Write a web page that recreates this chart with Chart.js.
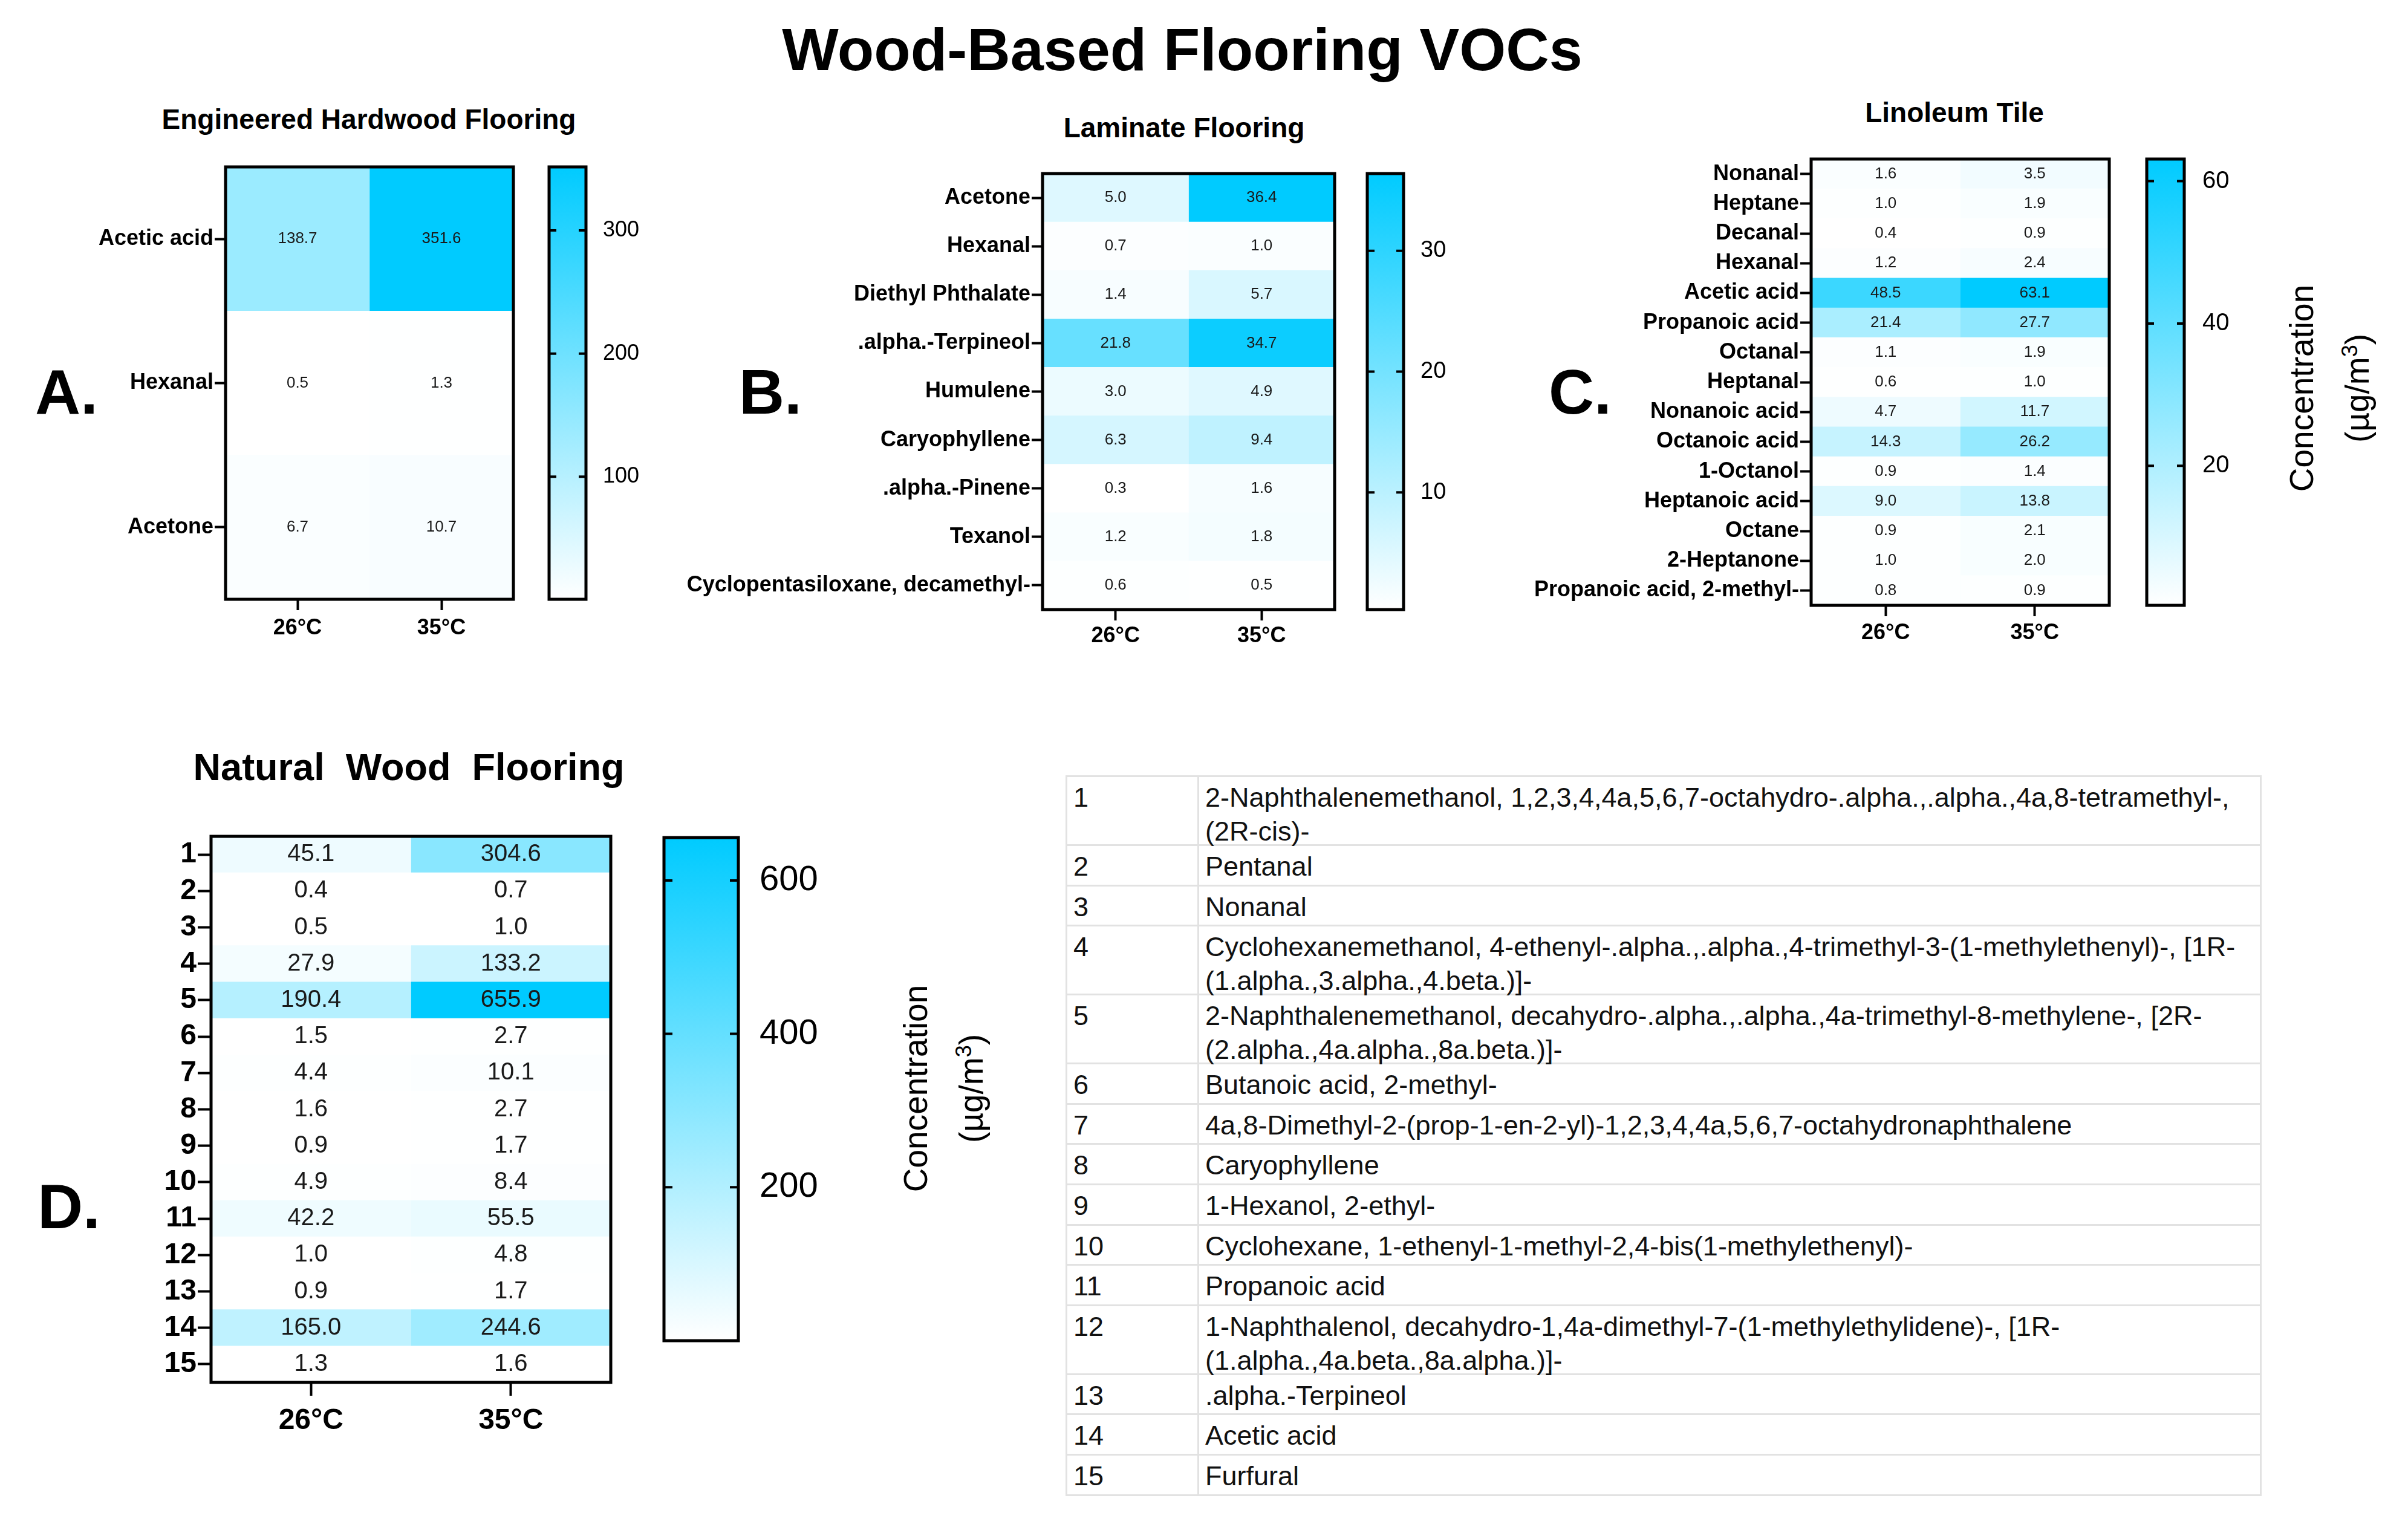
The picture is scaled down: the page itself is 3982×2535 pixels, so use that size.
<!DOCTYPE html>
<html>
<head>
<meta charset="utf-8">
<script src="https://cdn.jsdelivr.net/npm/chart.js@4.4.1/dist/chart.umd.min.js"></script>
<style>
  html, body { margin: 0; padding: 0; background: #fff; }
  body { width: 3982px; height: 2535px; position: relative; overflow: hidden;
         font-family: "Liberation Sans", Arial, Helvetica, sans-serif; color: #000; }
  .txt { position: absolute; transform: translate(-50%, -50%); white-space: pre; }
  .rot { position: absolute; transform: translate(-50%, -50%) rotate(-90deg); text-align: center;
         font-size: 55px; line-height: 80px; white-space: nowrap; }
  canvas { position: absolute; }
  #legendTable { position: absolute; left: 1762px; top: 1282px; width: 1978px; box-sizing: border-box;
                 border: 3px solid #e2e2e2; border-bottom: none; font-size: 45px; color: #111; }
  .row { display: flex; box-sizing: border-box; border-bottom: 3px solid #e2e2e2; }
  .num { width: 218px; flex: none; box-sizing: border-box; border-right: 3px solid #e2e2e2; padding: 6px 0 0 10px; line-height: 56px; }
  .name { padding: 6px 0 0 10px; line-height: 56px; white-space: pre; }
</style>
</head>
<body>
<script>
// ================================================================
// 데이터
// ================================================================
const temps = ["26°C", "35°C"];

const hardwoodCompounds = ["Acetic acid", "Hexanal", "Acetone"];
const hardwood26 = [138.7, 0.5, 6.7];
const hardwood35 = [351.6, 1.3, 10.7];
const hardwoodTicks = [100, 200, 300];

const laminateCompounds = ["Acetone", "Hexanal", "Diethyl Phthalate", ".alpha.-Terpineol", "Humulene",
  "Caryophyllene", ".alpha.-Pinene", "Texanol", "Cyclopentasiloxane, decamethyl-"];
const laminate26 = [5.0, 0.7, 1.4, 21.8, 3.0, 6.3, 0.3, 1.2, 0.6];
const laminate35 = [36.4, 1.0, 5.7, 34.7, 4.9, 9.4, 1.6, 1.8, 0.5];
const laminateTicks = [10, 20, 30];

const linoleumCompounds = ["Nonanal", "Heptane", "Decanal", "Hexanal", "Acetic acid", "Propanoic acid",
  "Octanal", "Heptanal", "Nonanoic acid", "Octanoic acid", "1-Octanol", "Heptanoic acid", "Octane",
  "2-Heptanone", "Propanoic acid, 2-methyl-"];
const linoleum26 = [1.6, 1.0, 0.4, 1.2, 48.5, 21.4, 1.1, 0.6, 4.7, 14.3, 0.9, 9.0, 0.9, 1.0, 0.8];
const linoleum35 = [3.5, 1.9, 0.9, 2.4, 63.1, 27.7, 1.9, 1.0, 11.7, 26.2, 1.4, 13.8, 2.1, 2.0, 0.9];
const linoleumTicks = [20, 40, 60];

const naturalIds = ["1", "2", "3", "4", "5", "6", "7", "8", "9", "10", "11", "12", "13", "14", "15"];
const natural26 = [45.1, 0.4, 0.5, 27.9, 190.4, 1.5, 4.4, 1.6, 0.9, 4.9, 42.2, 1.0, 0.9, 165.0, 1.3];
const natural35 = [304.6, 0.7, 1.0, 133.2, 655.9, 2.7, 10.1, 2.7, 1.7, 8.4, 55.5, 4.8, 1.7, 244.6, 1.6];
const naturalTicks = [200, 400, 600];
const naturalNames = [
  "2-Naphthalenemethanol, 1,2,3,4,4a,5,6,7-octahydro-.alpha.,.alpha.,4a,8-tetramethyl-,\n(2R-cis)-",
  "Pentanal",
  "Nonanal",
  "Cyclohexanemethanol, 4-ethenyl-.alpha.,.alpha.,4-trimethyl-3-(1-methylethenyl)-, [1R-\n(1.alpha.,3.alpha.,4.beta.)]-",
  "2-Naphthalenemethanol, decahydro-.alpha.,.alpha.,4a-trimethyl-8-methylene-, [2R-\n(2.alpha.,4a.alpha.,8a.beta.)]-",
  "Butanoic acid, 2-methyl-",
  "4a,8-Dimethyl-2-(prop-1-en-2-yl)-1,2,3,4,4a,5,6,7-octahydronaphthalene",
  "Caryophyllene",
  "1-Hexanol, 2-ethyl-",
  "Cyclohexane, 1-ethenyl-1-methyl-2,4-bis(1-methylethenyl)-",
  "Propanoic acid",
  "1-Naphthalenol, decahydro-1,4a-dimethyl-7-(1-methylethylidene)-, [1R-\n(1.alpha.,4a.beta.,8a.alpha.)]-",
  ".alpha.-Terpineol",
  "Acetic acid",
  "Furfural"
];

// ================================================================
// 공통
// ================================================================
const FONT = "'Liberation Sans', Arial, Helvetica, sans-serif";
const HI_RGB = [0, 203, 255];

function shade(v, lo, hi) {
  const t = Math.max(0, Math.min(1, (v - lo) / (hi - lo)));
  const c = HI_RGB.map((h) => Math.round(255 + (h - 255) * t));
  return `rgb(${c[0]},${c[1]},${c[2]})`;
}

function addText(text, cx, cy, css) {
  const d = document.createElement("div");
  d.className = "txt";
  d.textContent = text;
  d.style.left = cx + "px";
  d.style.top = cy + "px";
  Object.assign(d.style, css || {});
  document.body.appendChild(d);
  return d;
}

function addRotLabel(cx, cy) {
  const d = document.createElement("div");
  d.className = "rot";
  d.innerHTML = "Concentration<br>(µg/m<sup style='font-size:36px'>3</sup>)";
  d.style.left = cx + "px";
  d.style.top = cy + "px";
  document.body.appendChild(d);
}

function addCanvas(left, top, w, h) {
  const c = document.createElement("canvas");
  c.width = w;
  c.height = h;
  c.style.left = left + "px";
  c.style.top = top + "px";
  c.style.width = w + "px";
  c.style.height = h + "px";
  document.body.appendChild(c);
  return c;
}

// 축 라벨이 차트 영역을 밀어내지 않게
function noScalePadding(s) {
  s.paddingTop = 0;
  s.paddingBottom = 0;
  s.paddingLeft = 0;
  s.paddingRight = 0;
}

// 검은 테두리
const boxBorder = {
  id: "boxBorder",
  afterDraw(chart, args, opts) {
    const { ctx, chartArea: a } = chart;
    ctx.save();
    ctx.strokeStyle = "#000";
    ctx.lineWidth = opts.width || 5;
    ctx.strokeRect(a.left, a.top, a.right - a.left, a.bottom - a.top);
    ctx.restore();
  },
};

// 셀 값 표시
const cellLabels = {
  id: "cellLabels",
  afterDatasetsDraw(chart, args, opts) {
    const ctx = chart.ctx;
    ctx.save();
    ctx.font = opts.font;
    ctx.fillStyle = "#1a1a1a";
    ctx.textAlign = "center";
    ctx.textBaseline = "middle";
    chart.data.datasets.forEach((ds, i) => {
      chart.getDatasetMeta(i).data.forEach((el, j) => {
        ctx.fillText(ds.values[j].toFixed(1), (el.x + el.base) / 2, el.y);
      });
    });
    ctx.restore();
  },
};

// 컬러바 안쪽 눈금
const innerTicks = {
  id: "innerTicks",
  afterDraw(chart, args, opts) {
    const { ctx, chartArea: a } = chart;
    const scale = chart.scales.y;
    const len = opts.len || 12;
    ctx.save();
    ctx.strokeStyle = "#000";
    ctx.lineWidth = opts.width || 4;
    scale.ticks.forEach((t) => {
      const py = scale.getPixelForValue(t.value);
      ctx.beginPath();
      ctx.moveTo(a.left, py);
      ctx.lineTo(a.left + len, py);
      ctx.moveTo(a.right - len, py);
      ctx.lineTo(a.right, py);
      ctx.stroke();
    });
    ctx.restore();
  },
};

// ================================================================
// 히트맵
// ================================================================
function heatmap(g, rows, cols) {
  const all = cols.flat();
  const lo = Math.min(...all);
  const hi = Math.max(...all);
  const pad = 6;
  const canvas = addCanvas(g.left - g.yW, g.top - pad, g.yW + g.w + pad, pad + g.h + g.xH);

  return new Chart(canvas, {
    type: "bar",
    data: {
      labels: rows,
      datasets: cols.map((vals, c) => ({
        label: temps[c],
        data: vals.map(() => [c, c + 1]),
        values: vals,
        backgroundColor: vals.map((v) => shade(v, lo, hi)),
        borderWidth: 0,
        barPercentage: 1,
        categoryPercentage: 1,
        grouped: false,
      })),
    },
    options: {
      indexAxis: "y",
      responsive: false,
      animation: false,
      devicePixelRatio: 1,
      layout: { padding: { top: pad, right: pad, left: 0, bottom: 0 } },
      plugins: {
        legend: { display: false },
        tooltip: { enabled: false },
        boxBorder: { width: 5 },
        cellLabels: { font: `${g.cellFont}px ${FONT}` },
      },
      scales: {
        x: {
          type: "linear",
          min: 0,
          max: temps.length,
          afterBuildTicks: (s) => { s.ticks = temps.map((t, i) => ({ value: i + 0.5 })); },
          ticks: {
            callback: (v, i) => temps[i],
            font: { family: FONT, size: g.xFont, weight: "bold" },
            color: "#000",
            padding: g.xPad,
            maxRotation: 0,
            autoSkip: false,
          },
          grid: { drawOnChartArea: false, tickLength: g.tick, tickWidth: 4, tickColor: "#000" },
          border: { display: false },
          afterFit: (s) => { s.height = g.xH; noScalePadding(s); },
        },
        y: {
          type: "category",
          ticks: {
            font: { family: FONT, size: g.labelFont, weight: "bold" },
            color: "#000",
            padding: 2,
            autoSkip: false,
          },
          grid: { offset: false, drawOnChartArea: false, tickLength: g.tick, tickWidth: 4, tickColor: "#000" },
          border: { display: false },
          afterFit: (s) => { s.width = g.yW; noScalePadding(s); },
        },
      },
    },
    plugins: [boxBorder, cellLabels],
  });
}

// ================================================================
// 컬러바
// ================================================================
function colorbar(g, cols, ticks, minVal) {
  const all = cols.flat();
  const dataLo = Math.min(...all);
  const lo = minVal !== undefined ? minVal : dataLo;
  const hi = Math.max(...all);
  const pad = 6;
  const canvas = addCanvas(g.left - pad, g.top - pad, pad + g.w + g.labelW, g.h + pad * 2);

  return new Chart(canvas, {
    type: "bar",
    data: {
      labels: ["scale"],
      datasets: [{
        data: [[lo, hi]],
        backgroundColor: (ctx) => {
          const a = ctx.chart.chartArea;
          if (!a) return "#fff";
          const y0 = ctx.chart.scales.y.getPixelForValue(dataLo);
          const grad = ctx.chart.ctx.createLinearGradient(0, y0, 0, a.top);
          grad.addColorStop(0, shade(dataLo, dataLo, hi));
          grad.addColorStop(1, shade(hi, dataLo, hi));
          return grad;
        },
        borderWidth: 0,
        barPercentage: 1,
        categoryPercentage: 1,
      }],
    },
    options: {
      responsive: false,
      animation: false,
      devicePixelRatio: 1,
      layout: { padding: { top: pad, bottom: pad, left: pad, right: 0 } },
      plugins: {
        legend: { display: false },
        tooltip: { enabled: false },
        boxBorder: { width: 5 },
        innerTicks: { len: g.tickLen || 12, width: 4 },
      },
      scales: {
        x: { display: false },
        y: {
          position: "right",
          min: lo,
          max: hi,
          afterBuildTicks: (s) => { s.ticks = ticks.map((v) => ({ value: v })); },
          ticks: { font: { family: FONT, size: g.font }, color: "#000", padding: g.pad },
          grid: { display: false },
          border: { display: false },
          afterFit: (s) => { s.width = g.labelW; noScalePadding(s); },
        },
      },
    },
    plugins: [boxBorder, innerTicks],
  });
}

// ================================================================
// 그리기
// ================================================================
addText("Wood-Based Flooring VOCs", 1955, 82, { fontSize: "99px", fontWeight: "bold" });

// A
addText("Engineered Hardwood Flooring", 610, 197, { fontSize: "46px", fontWeight: "bold" });
addText("A.", 110, 648, { fontSize: "104px", fontWeight: "bold" });
heatmap({ left: 373, top: 276, w: 476, h: 715, yW: 260, xH: 80, tick: 18, xPad: 8,
          labelFont: 36, cellFont: 26, xFont: 36 }, hardwoodCompounds, [hardwood26, hardwood35]);
colorbar({ left: 908, top: 276, w: 61, h: 715, labelW: 120, pad: 20, font: 36 },
         [hardwood26, hardwood35], hardwoodTicks);

// B
addText("Laminate Flooring", 1958, 211, { fontSize: "46px", fontWeight: "bold" });
addText("B.", 1274, 648, { fontSize: "104px", fontWeight: "bold" });
heatmap({ left: 1724, top: 287, w: 483, h: 721, yW: 630, xH: 80, tick: 18, xPad: 4,
          labelFont: 36, cellFont: 26, xFont: 36 }, laminateCompounds, [laminate26, laminate35]);
colorbar({ left: 2261, top: 287, w: 60, h: 721, labelW: 90, pad: 20, font: 38 },
         [laminate26, laminate35], laminateTicks);

// C
addText("Linoleum Tile", 3232, 186, { fontSize: "46px", fontWeight: "bold" });
addText("C.", 2613, 648, { fontSize: "104px", fontWeight: "bold" });
heatmap({ left: 2995, top: 263, w: 493, h: 738, yW: 500, xH: 80, tick: 18, xPad: 6,
          labelFont: 36, cellFont: 26, xFont: 36 }, linoleumCompounds, [linoleum26, linoleum35]);
colorbar({ left: 3550, top: 263, w: 62, h: 738, labelW: 100, pad: 22, font: 40 },
         [linoleum26, linoleum35], linoleumTicks);
addRotLabel(3852, 642);

// D
addText("Natural  Wood  Flooring", 676, 1268, { fontSize: "63px", fontWeight: "bold" });
addText("D.", 114, 1995, { fontSize: "104px", fontWeight: "bold" });
heatmap({ left: 349, top: 1383, w: 661, h: 903, yW: 160, xH: 100, tick: 22, xPad: 13,
          labelFont: 48, cellFont: 40, xFont: 48 }, naturalIds, [natural26, natural35]);
colorbar({ left: 1098, top: 1385, w: 123, h: 832, labelW: 150, pad: 27, font: 58, tickLen: 14 },
         [natural26, natural35], naturalTicks, 0);
addRotLabel(1560, 1800);

// 범례 표
(function () {
  const table = document.createElement("div");
  table.id = "legendTable";
  naturalIds.forEach((id, i) => {
    const name = naturalNames[i];
    const lines = name.split("\n").length;
    const row = document.createElement("div");
    row.className = "row";
    row.style.height = (lines > 1 ? 114 : 66.6) + "px";
    const n = document.createElement("div");
    n.className = "num";
    n.textContent = id;
    const t = document.createElement("div");
    t.className = "name";
    t.textContent = name;
    row.appendChild(n);
    row.appendChild(t);
    table.appendChild(row);
  });
  document.body.appendChild(table);
})();
</script>
</body>
</html>
